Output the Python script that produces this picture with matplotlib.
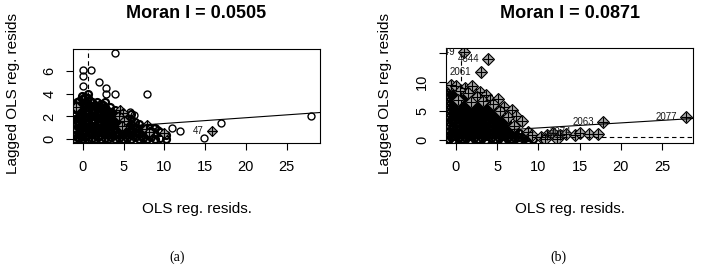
import matplotlib
matplotlib.use("Agg")
import matplotlib.pyplot as plt

plt.rcParams['font.family'] = ['Liberation Sans', 'DejaVu Sans']

W, H = 701, 267

# ---------------- panel (a) ----------------
a_title = "Moran I = 0.0505"
a_xticks = [0, 5, 10, 15, 20, 25]
a_yticks = [0, 2, 4, 6]
a_xlim = (-1.19, 29.08)
a_ylim = (-0.33, 7.93)
a_intercept, a_slope = 0.88, 0.0505
a_mean_x = 0.6

# dense cloud of ordinary points (columns of x with their lagged values)
a_col_x = [-0.9, -0.5, -0.1, 0.3, 0.7, 1.1, 1.5, 1.9, 2.3, 2.7, 3.1, 3.5, 3.9,
           4.4, 4.9, 5.4, 5.9, 6.4, 6.9, 7.4, 7.9, 8.4, 8.9, 9.5, 10.2]
a_col_y = [
    [0.0, 0.4, 0.9, 1.3, 1.8, 2.2, 2.7, 3.0],
    [0.1, 0.5, 1.0, 1.5, 1.9, 2.4, 2.9, 3.4],
    [0.0, 0.3, 0.7, 1.2, 1.6, 2.1, 2.5, 3.0, 3.5, 3.8],
    [0.2, 0.6, 1.1, 1.4, 1.9, 2.3, 2.8, 3.2, 3.7],
    [0.0, 0.4, 0.9, 1.3, 1.7, 2.2, 2.6, 3.1, 3.6, 4.0],
    [0.1, 0.6, 1.0, 1.5, 2.0, 2.4, 2.9, 3.3],
    [0.0, 0.4, 0.8, 1.2, 1.7, 2.1, 2.6, 3.0],
    [0.2, 0.6, 1.0, 1.5, 1.9, 2.4, 2.8],
    [0.0, 0.4, 0.9, 1.3, 1.8, 2.2, 2.7, 3.1],
    [0.1, 0.5, 1.0, 1.4, 1.9, 2.3, 2.8, 3.3],
    [0.0, 0.4, 0.8, 1.2, 1.7, 2.1, 2.5],
    [0.2, 0.6, 1.1, 1.5, 1.9, 2.4],
    [0.0, 0.4, 0.9, 1.3, 1.8, 2.2, 2.6],
    [0.1, 0.5, 1.0, 1.4, 1.8, 2.3],
    [0.0, 0.4, 0.8, 1.3, 1.7, 2.1],
    [0.1, 0.6, 1.0, 1.5, 1.9],
    [0.0, 0.4, 0.9, 1.3, 1.8, 2.2],
    [0.2, 0.6, 1.1, 1.5],
    [0.0, 0.5, 0.9, 1.3],
    [0.1, 0.6, 1.0],
    [0.0, 0.4, 0.8, 1.2],
    [0.2, 0.7],
    [0.0, 0.5, 1.0],
    [0.1, 0.6],
    [0.0, 0.4],
]
# extra ordinary points filling the dense core
a_fill_x = [-0.7, -0.3, 0.1, 0.5, 0.9, 1.3, 1.7, 2.1, 2.5, 2.9, 3.3, 3.7, 4.1,
            -0.7, -0.3, 0.1, 0.5, 0.9, 1.3, 1.7, 2.1, 2.5, 2.9, 3.3, 3.7, 4.1,
            -0.7, 0.1, 0.9, 1.7, 2.5, 3.3, 4.6, 5.1, 5.6, 6.1, 6.6, 7.1]
a_fill_y = [0.2, 0.8, 0.5, 1.0, 0.6, 1.2, 0.9, 1.3, 0.7, 1.1, 0.9, 1.4, 0.6,
            1.6, 2.2, 1.9, 2.5, 2.0, 2.7, 2.3, 1.6, 2.5, 2.1, 1.4, 2.0, 1.6,
            3.3, 3.2, 3.4, 3.3, 3.0, 2.8, 1.1, 0.6, 1.2, 0.7, 1.0, 0.3]
# scattered ordinary points
a_out_x = [3.9, 0.0, 0.0, 1.0, 0.0, 2.0, 2.9, 2.9, 3.9, 7.9, 11.0, 11.9, 14.9, 17.0, 28.0, 8.6, 9.2, 5.8, 6.3]
a_out_y = [7.55, 6.05, 5.6, 6.05, 4.7, 5.05, 4.5, 4.0, 4.0, 4.0, 0.97, 0.7, 0.14, 1.47, 2.0, 1.0, 0.8, 2.4, 2.1]
# influential points (diamonds)
a_inf_x = [4.6, 4.9, 4.5, 5.0, 4.8, 7.9, 7.7, 8.1, 10.0, 15.9, -0.8]
a_inf_y = [2.6, 2.3, 2.0, 1.6, 1.2, 1.25, 0.9, 0.6, 0.55, 0.7, 2.8]
a_lab_text = ["47"]
a_lab_x = [15.9]
a_lab_y = [0.7]

# ---------------- panel (b) ----------------
b_title = "Moran I = 0.0871"
b_xticks = [0, 5, 10, 15, 20, 25]
b_yticks = [0, 5, 10, 15]
b_yticklabels = ["0", "5", "10", ""]
b_xlim = (-1.21, 28.76)
b_ylim = (-0.52, 15.94)
b_intercept, b_slope = 1.22, 0.0871
b_mean_x, b_mean_y = 0.6, 0.57

b_col_x = [-0.8, -0.3, 0.2, 0.7, 1.2, 1.7, 2.2, 2.7, 3.2, 3.7, 4.2, 4.7, 5.2,
           5.7, 6.2, 6.7, 7.2, 7.7, 8.2, 8.7, 9.3]
b_col_y = [
    [0.2, 0.9, 1.6, 2.4, 3.1, 3.9, 4.6, 5.3, 6.1, 6.8, 7.5, 8.3, 9.0],
    [0.0, 0.7, 1.4, 2.1, 2.9, 3.6, 4.3, 5.0, 5.8, 6.5, 7.2, 8.0, 8.7],
    [0.3, 1.0, 1.8, 2.5, 3.2, 3.9, 4.7, 5.4, 6.1, 6.9, 7.6, 8.3],
    [0.1, 0.8, 1.5, 2.2, 3.0, 3.7, 4.4, 5.2, 5.9, 6.6, 7.3, 8.1, 8.8],
    [0.4, 1.1, 1.9, 2.6, 3.3, 4.0, 4.8, 5.5, 6.2, 7.0, 7.7, 8.4],
    [0.0, 0.7, 1.4, 2.1, 2.9, 3.6, 4.3, 5.1, 5.8, 6.5, 7.3, 8.0],
    [0.3, 1.0, 1.7, 2.5, 3.2, 3.9, 4.7, 5.4, 6.1, 6.8, 7.6, 8.3],
    [0.1, 0.8, 1.5, 2.2, 3.0, 3.7, 4.4, 5.1, 5.9, 6.6, 7.3],
    [0.4, 1.1, 1.8, 2.6, 3.3, 4.0, 4.7, 5.5, 6.2, 6.9, 7.5],
    [0.0, 0.7, 1.4, 2.2, 2.9, 3.6, 4.3, 5.1, 5.8, 6.5],
    [0.3, 1.0, 1.7, 2.5, 3.2, 3.9, 4.6, 5.4, 6.1],
    [0.1, 0.8, 1.5, 2.2, 3.0, 3.7, 4.4, 5.1, 5.8],
    [0.4, 1.1, 1.8, 2.6, 3.3, 4.0, 4.7],
    [0.0, 0.7, 1.4, 2.1, 2.9, 3.6, 4.2],
    [0.3, 1.0, 1.7, 2.4, 3.1],
    [0.1, 0.8, 1.5, 2.2],
    [0.4, 1.1, 1.7],
    [0.0, 0.6, 1.2],
    [0.3, 0.9],
    [0.0, 0.5],
    [0.2],
]
b_fill_x = [-0.55, -0.05, 0.45, 0.95, 1.45, 1.95, 2.45, 2.95, 3.45, 3.95, 4.45, 4.95, 5.45,
            -0.55, -0.05, 0.45, 0.95, 1.45, 1.95, 2.45, 2.95, 3.45, 3.95, 4.45,
            -0.55, 0.45, 1.45, 2.45, 3.45, 5.95, 6.45, 6.95]
b_fill_y = [0.5, 1.2, 0.6, 1.9, 1.0, 2.4, 1.4, 2.6, 0.8, 2.0, 1.3, 2.6, 1.5,
            3.5, 4.7, 4.0, 5.5, 4.4, 6.1, 5.0, 6.4, 4.3, 5.5, 3.6,
            7.9, 7.2, 7.0, 6.9, 7.2, 1.3, 0.5, 1.8]
b_inf_x = [-0.6, 0.0, 1.1, 2.0, 2.9, 3.6, 4.1, 5.1, 5.8, 6.8, 7.3, 8.0, 7.0,
           8.8, 9.2, 10.3, 11.1, 11.8, 12.6, 13.4, 14.4, 15.1, 16.1, 17.2,
           10.8, 12.2, 0.5, 1.5, 2.5, 3.3, 4.5, 5.3, 6.3, 0.2, 1.8,
           1.0, 3.9, 3.0, 17.9, 27.9]
b_inf_y = [9.6, 9.3, 9.0, 9.3, 8.4, 7.8, 7.0, 7.1, 5.7, 5.2, 4.2, 3.3, 2.5,
           1.4, 0.8, 0.6, 0.9, 1.2, 0.8, 1.1, 0.9, 1.2, 1.0, 1.1,
           0.2, 0.1, 8.5, 8.2, 7.5, 6.8, 6.2, 5.0, 4.0, 7.0, 6.5,
           15.3, 14.1, 11.7, 3.1, 4.0]
b_lab_text = ["2049", "4644", "2061", "2063", "2077", "2071", "2074"]
b_lab_x = [1.0, 3.9, 3.0, 17.9, 27.9, 14.4, 15.1]
b_lab_y = [15.3, 14.1, 11.7, 3.1, 4.0, 0.8, 1.3]


def flatten(col_x, col_y):
    xs, ys = [], []
    for x, ycol in zip(col_x, col_y):
        for y in ycol:
            xs.append(x)
            ys.append(y)
    return xs, ys


def draw_panel(ax, col_x, col_y, fill_x, fill_y, out_x, out_y, inf_x, inf_y,
               lab_text, lab_x, lab_y, xlim, ylim, xticks, yticks, yticklabels,
               intercept, slope, mean_x, mean_y, circ_ms, dia_ms):
    mx, my = flatten(col_x, col_y)
    mx = mx + fill_x
    my = my + fill_y
    ax.plot(mx, my, linestyle='none', marker='o', ms=circ_ms, mfc='none',
            mec='black', mew=1.6)
    ax.plot(out_x, out_y, linestyle='none', marker='o', ms=circ_ms, mfc='none',
            mec='black', mew=1.0)
    ax.plot(inf_x, inf_y, linestyle='none', marker='D', ms=dia_ms, mfc='#a6a6a6',
            mec='black', mew=0.8)
    ax.plot(inf_x, inf_y, linestyle='none', marker='+', ms=dia_ms * 1.35,
            mec='black', mew=0.8)
    ax.axline((0, intercept), slope=slope, color='black', lw=0.8)
    ax.axvline(mean_x, color='black', lw=0.8, ls=(0, (4, 3)))
    if mean_y is not None:
        ax.axhline(mean_y, color='black', lw=0.8, ls=(0, (4, 3)))
    dx = 1.1
    for t, x, y in zip(lab_text, lab_x, lab_y):
        ax.text(x - dx, y, t, ha='right', va='center', fontsize=7, color='#1a1a1a',
                clip_on=True)
    ax.set_xlim(*xlim)
    ax.set_ylim(*ylim)
    ax.set_xticks(xticks)
    ax.set_xticklabels([str(v) for v in xticks])
    ax.set_yticks(yticks)
    ax.set_yticklabels(yticklabels, rotation=90, va='center')
    ax.tick_params(direction='out', length=5, width=0.8, pad=7, labelsize=10.5)
    for s in ax.spines.values():
        s.set_linewidth(0.8)


fig = plt.figure(figsize=(W / 100, H / 100), dpi=100)
ax1 = fig.add_axes([73 / W, 1 - 143 / H, 247 / W, 94 / H])
ax2 = fig.add_axes([446 / W, 1 - 143 / H, 247 / W, 95 / H])

draw_panel(ax1, a_col_x, a_col_y, a_fill_x, a_fill_y, a_out_x, a_out_y, a_inf_x, a_inf_y,
           a_lab_text, a_lab_x, a_lab_y, a_xlim, a_ylim, a_xticks, a_yticks,
           [str(v) for v in a_yticks], a_intercept, a_slope, a_mean_x, None, 5, 5)
draw_panel(ax2, b_col_x, b_col_y, b_fill_x, b_fill_y, [], [], b_inf_x, b_inf_y,
           b_lab_text, b_lab_x, b_lab_y, b_xlim, b_ylim, b_xticks, b_yticks,
           b_yticklabels, b_intercept, b_slope, b_mean_x, b_mean_y, 5, 5.8)

for cx, title in [(196.5, a_title), (569.5, b_title)]:
    fig.text(cx / W, 1 - 13 / H, title, ha='center', va='center', fontsize=13,
             fontweight='bold')
    fig.text(cx / W, 1 - 209 / H, "OLS reg. resids.", ha='center', va='center',
             fontsize=11)
for yx in (13, 385):
    fig.text(yx / W, 1 - 94 / H, "Lagged OLS reg. resids", rotation=90,
             ha='center', va='center', fontsize=11)
fig.text(177 / W, 1 - 257 / H, "(a)", ha='center', va='center', fontsize=10,
         family='Liberation Serif')
fig.text(558 / W, 1 - 257 / H, "(b)", ha='center', va='center', fontsize=10,
         family='Liberation Serif')

fig.savefig("out.png", dpi=100)
